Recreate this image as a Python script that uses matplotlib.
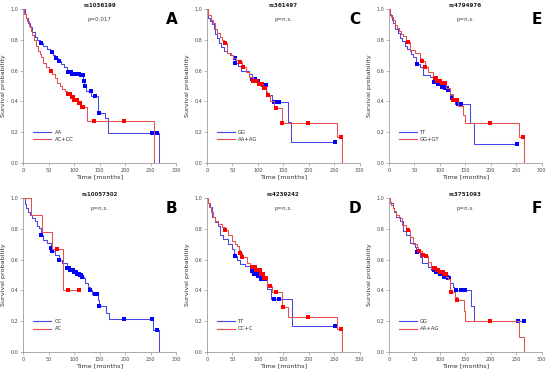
import numpy as np
import matplotlib
matplotlib.use('Agg')
import matplotlib.pyplot as plt
from matplotlib.lines import Line2D

# ---- panel A : rs1036199 ----
a_blue_t = [0, 3, 6, 10, 14, 18, 23, 28, 33, 40, 46, 52, 58, 63, 68, 74, 80, 86, 95, 112, 118, 120, 124, 134, 146, 160, 167, 266]
a_blue_s = [1.0, 0.97, 0.94, 0.91, 0.88, 0.85, 0.82, 0.80, 0.78, 0.76, 0.74, 0.72, 0.70, 0.68, 0.66, 0.64, 0.62, 0.59, 0.58, 0.57, 0.535, 0.50, 0.47, 0.435, 0.327, 0.29, 0.197, 0.0]
a_blue_c = [35, 56, 65, 71, 88, 90, 92, 94, 96, 98, 100, 102, 104, 106, 108, 110, 113, 115, 117, 119, 121, 133, 141, 148, 252, 263]
a_red_t = [0, 2, 5, 8, 11, 15, 18, 21, 25, 29, 33, 36, 40, 45, 50, 56, 62, 67, 72, 77, 82, 87, 93, 100, 108, 113, 126, 256]
a_red_s = [1.0, 0.97, 0.94, 0.92, 0.89, 0.86, 0.83, 0.80, 0.76, 0.73, 0.71, 0.69, 0.65, 0.62, 0.60, 0.575, 0.55, 0.52, 0.50, 0.48, 0.465, 0.45, 0.43, 0.41, 0.39, 0.365, 0.275, 0.0]
a_red_c = [54, 88, 90, 92, 95, 97, 100, 103, 106, 109, 112, 115, 118, 140, 198]

# ---- panel B : rs10057302 ----
b_blue_t = [0, 3, 6, 10, 14, 18, 24, 28, 31, 35, 40, 47, 54, 55, 63, 70, 76, 86, 92, 98, 104, 110, 115, 119, 122, 127, 131, 135, 147, 149, 163, 168, 255, 266]
b_blue_s = [1.0, 0.96, 0.935, 0.91, 0.89, 0.87, 0.848, 0.82, 0.804, 0.76, 0.728, 0.707, 0.678, 0.659, 0.63, 0.598, 0.576, 0.543, 0.53, 0.52, 0.51, 0.50, 0.49, 0.478, 0.446, 0.424, 0.40, 0.376, 0.337, 0.30, 0.254, 0.217, 0.141, 0.0]
b_blue_c = [35, 54, 56, 70, 87, 89, 91, 93, 95, 97, 99, 101, 103, 105, 107, 109, 111, 113, 115, 132, 141, 145, 149, 198, 252, 263]
b_red_t = [0, 15.6, 37, 56.7, 78]
b_red_s = [1.0, 0.889, 0.778, 0.667, 0.40]
b_red_c = [66.5, 89, 109.6]

# ---- panel C : rs361497 ----
c_blue_t = [0, 3, 7, 10, 14, 17, 20, 23, 28, 33, 40, 46, 52, 56, 62, 68, 82, 88, 95, 102, 110, 117, 121, 127, 160, 166]
c_blue_s = [1.0, 0.94, 0.92, 0.90, 0.87, 0.84, 0.81, 0.78, 0.75, 0.725, 0.715, 0.70, 0.68, 0.65, 0.63, 0.595, 0.578, 0.545, 0.53, 0.515, 0.505, 0.453, 0.44, 0.397, 0.267, 0.137]
c_blue_c = [55, 56, 88, 90, 92, 94, 96, 98, 100, 102, 104, 106, 108, 110, 112, 114, 116, 131, 136, 142, 251]
c_red_t = [0, 3, 8, 13, 17, 20, 25, 29, 34, 40, 48, 52, 58, 65, 70, 76, 82, 90, 100, 110, 116, 118, 124.5, 132, 147, 255.6, 265]
c_red_s = [1.0, 0.963, 0.93, 0.909, 0.87, 0.844, 0.82, 0.80, 0.78, 0.714, 0.70, 0.68, 0.67, 0.655, 0.62, 0.59, 0.56, 0.535, 0.51, 0.486, 0.465, 0.44, 0.40, 0.356, 0.258, 0.171, 0.0]
c_red_c = [36, 65, 72, 90, 93, 96, 99, 102, 105, 108, 112, 115, 120, 135, 148, 199, 263]

# ---- panel D : rs4239242 ----
d_blue_t = [0, 3, 6.5, 9.8, 16.3, 22.8, 26, 32.6, 42.4, 49, 54, 60, 65, 75, 85, 92, 100, 107, 119, 126, 167]
d_blue_s = [1.0, 0.97, 0.94, 0.876, 0.843, 0.82, 0.757, 0.735, 0.702, 0.67, 0.626, 0.60, 0.572, 0.56, 0.528, 0.51, 0.495, 0.474, 0.408, 0.343, 0.17]
d_blue_c = [55, 88, 90, 92, 94, 96, 98, 100, 102, 104, 107, 109, 111, 113, 115, 132, 142, 251]
d_red_t = [0, 2, 5, 9, 13, 17, 21, 29, 36, 42, 49, 55, 59, 63, 65, 70, 78, 85, 95, 105, 112, 118.7, 127, 146.7, 159.8, 255.6, 265.4]
d_red_s = [1.0, 0.97, 0.94, 0.91, 0.876, 0.85, 0.83, 0.81, 0.795, 0.757, 0.724, 0.70, 0.69, 0.66, 0.643, 0.62, 0.576, 0.55, 0.53, 0.51, 0.48, 0.43, 0.387, 0.29, 0.228, 0.152, 0.0]
d_red_c = [36, 66, 70, 88, 90, 92, 94, 96, 98, 100, 102, 104, 106, 108, 110, 112, 114, 116, 124, 136, 149, 199, 263.5]

# ---- panel E : rs4794976 ----
e_blue_t = [0, 3, 6, 9, 13, 18, 22, 25, 31, 36, 41, 44, 48, 54, 61, 67, 80, 87, 95, 103, 110, 116, 120, 123, 129, 159, 167]
e_blue_s = [1.0, 0.96, 0.93, 0.91, 0.87, 0.843, 0.81, 0.79, 0.757, 0.74, 0.724, 0.71, 0.69, 0.64, 0.626, 0.572, 0.557, 0.528, 0.51, 0.495, 0.485, 0.474, 0.44, 0.42, 0.383, 0.257, 0.126]
e_blue_c = [55, 56, 88, 90, 92, 94, 96, 98, 100, 102, 104, 106, 108, 110, 112, 114, 116, 123, 136, 142, 252]
e_red_t = [0, 2, 5, 8, 12, 16, 20, 24, 28, 33, 37, 41, 51, 61, 64, 70, 77, 87, 95, 104, 112, 120, 125, 135, 146, 149, 256, 265]
e_red_s = [1.0, 0.97, 0.95, 0.93, 0.898, 0.875, 0.854, 0.84, 0.822, 0.80, 0.785, 0.735, 0.713, 0.68, 0.66, 0.626, 0.593, 0.55, 0.535, 0.52, 0.485, 0.448, 0.41, 0.37, 0.31, 0.257, 0.172, 0.0]
e_red_c = [37, 66, 71, 90, 92, 95, 98, 101, 104, 107, 110, 125, 133, 199, 263]

# ---- panel F : rs3751093 ----
f_blue_t = [0, 3, 7.9, 11, 14.4, 21, 27.5, 34, 40.6, 50.4, 54, 61.6, 65.5, 76.6, 83, 92, 100, 108, 115, 120.5, 125.8, 128, 160.5, 167.7]
f_blue_s = [1.0, 0.97, 0.935, 0.91, 0.88, 0.848, 0.783, 0.761, 0.707, 0.685, 0.652, 0.62, 0.576, 0.554, 0.533, 0.52, 0.505, 0.49, 0.478, 0.446, 0.424, 0.40, 0.30, 0.20]
f_blue_c = [55, 88, 90, 92, 94, 96, 98, 100, 102, 104, 106, 108, 110, 112, 114, 116, 118, 132, 141, 150, 253.5, 264.6]
f_red_t = [0, 2, 4.6, 8, 11, 15, 19.7, 26, 33, 40.6, 47, 55, 58, 65, 72, 76.6, 83, 92, 100, 108, 113, 116, 120, 130, 134, 146.7, 149, 255.5, 266]
f_red_s = [1.0, 0.975, 0.957, 0.935, 0.913, 0.89, 0.87, 0.826, 0.79, 0.75, 0.70, 0.68, 0.657, 0.63, 0.624, 0.587, 0.548, 0.535, 0.52, 0.505, 0.49, 0.474, 0.39, 0.36, 0.337, 0.265, 0.20, 0.10, 0.0]
f_red_c = [37, 59, 67, 72, 88, 91, 94, 97, 100, 103, 106, 109, 112, 122.5, 134, 199]

panels = [
    ('A', 'rs1036199', 'p=0.017', ['AA', 'AC+CC'], (a_blue_t, a_blue_s, a_blue_c), (a_red_t, a_red_s, a_red_c)),
    ('C', 'rs361497', 'p=n.s.', ['GG', 'AA+AG'], (c_blue_t, c_blue_s, c_blue_c), (c_red_t, c_red_s, c_red_c)),
    ('E', 'rs4794976', 'p=n.s.', ['TT', 'GG+GT'], (e_blue_t, e_blue_s, e_blue_c), (e_red_t, e_red_s, e_red_c)),
    ('B', 'rs10057302', 'p=n.s.', ['CC', 'AC'], (b_blue_t, b_blue_s, b_blue_c), (b_red_t, b_red_s, b_red_c)),
    ('D', 'rs4239242', 'p=n.s.', ['TT', 'CC+C'], (d_blue_t, d_blue_s, d_blue_c), (d_red_t, d_red_s, d_red_c)),
    ('F', 'rs3751093', 'p=n.s.', ['GG', 'AA+AG'], (f_blue_t, f_blue_s, f_blue_c), (f_red_t, f_red_s, f_red_c)),
]

lefts = [0.042, 0.376, 0.707]
bottoms = [0.563, 0.056]
w, h = 0.278, 0.413


def draw_km(ax, t, s, c, line_col, mark_col):
    t = np.asarray(t, float)
    s = np.asarray(s, float)
    c = np.asarray(c, float)
    t_end = max(t[-1], c.max())
    tt = np.append(t, t_end)
    ss = np.append(s, s[-1])
    ax.plot(tt, ss, drawstyle='steps-post', color=line_col, lw=0.75)
    # censored observations sit on the curve
    cy = s[np.searchsorted(t, c, side='right') - 1]
    ax.plot(c, cy, 's', color=mark_col, ms=2.3, mew=0, ls='none')


fig = plt.figure(figsize=(5.5, 3.73), dpi=100)

for i, (letter, snp, pval, labels, blue, red) in enumerate(panels):
    ax = fig.add_axes([lefts[i % 3], bottoms[i // 3], w, h])
    draw_km(ax, *blue, '#4848e8', '#0000ff')
    draw_km(ax, *red, '#e85050', '#ff0000')

    ax.set_xlim(0, 300)
    ax.set_ylim(0, 1)
    ax.set_xticks([0, 50, 100, 150, 200, 250, 300])
    ax.set_yticks([0.0, 0.2, 0.4, 0.6, 0.8, 1.0])
    ax.set_yticklabels(['0.0', '0.2', '0.4', '0.6', '0.8', '1.0'])
    for side in ['top', 'right']:
        ax.spines[side].set_visible(False)
    for side in ['left', 'bottom']:
        ax.spines[side].set_linewidth(0.5)
        ax.spines[side].set_color('#888888')
    ax.tick_params(labelsize=3.5, length=2, width=0.4, color='#888888', labelcolor='#444444', pad=1.5)
    ax.set_xlabel('Time [months]', fontsize=4.6, color='#333333', labelpad=1)
    ax.set_ylabel('Survival probability', fontsize=4.6, color='#333333', labelpad=3)
    ax.patch.set_alpha(0)

    ax.text(0.5, 1.02, snp, transform=ax.transAxes, ha='center', va='center',
            fontsize=4, fontweight='bold', color='#222222')
    ax.text(0.5, 0.93, pval, transform=ax.transAxes, ha='center', va='center',
            fontsize=4, color='#444444')
    ax.text(0.97, 0.93, letter, transform=ax.transAxes, ha='center', va='center',
            fontsize=11, fontweight='bold', color='black')

    handles = [Line2D([], [], color='#4848e8', lw=0.8), Line2D([], [], color='#e85050', lw=0.8)]
    ax.legend(handles, labels, loc='upper left', bbox_to_anchor=(0.05, 0.23), frameon=False,
              fontsize=3.8, handlelength=3.4, handletextpad=0.6, labelspacing=0.4, borderpad=0,
              labelcolor='#333333')

fig.savefig('out.png', dpi=100)
